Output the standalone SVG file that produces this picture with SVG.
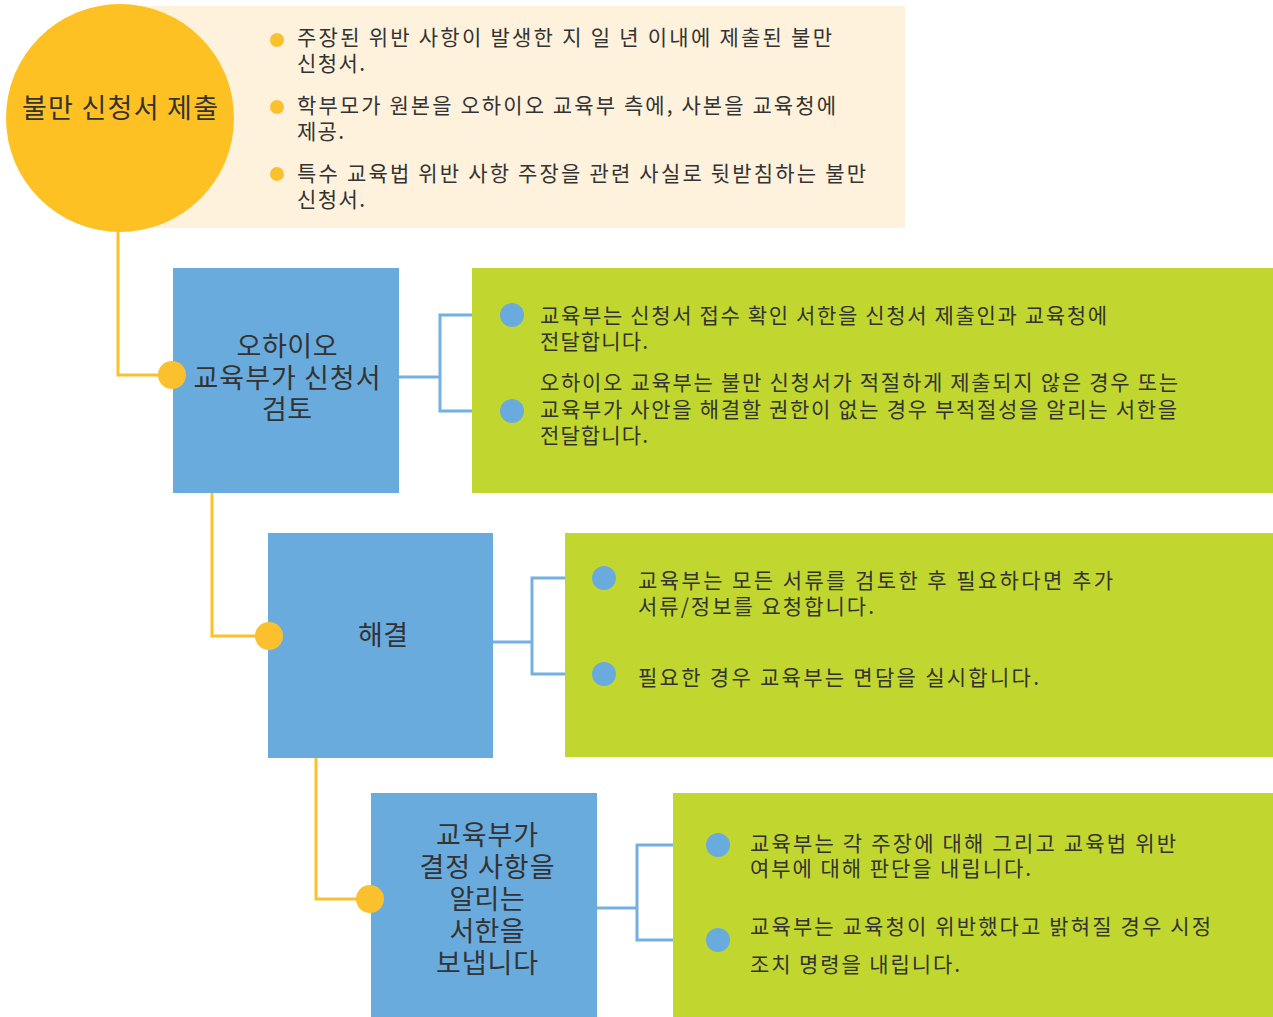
<svg xmlns="http://www.w3.org/2000/svg" width="1273" height="1017" viewBox="0 0 1273 1017">
<style>
.t{font-family:"Noto Sans CJK KR","Noto Sans",sans-serif;fill:#333333}
.b{font-size:21px}
.h{font-size:27px;text-anchor:middle}
.yl{fill:none;stroke:#FBC02D;stroke-width:3}
.bl{fill:none;stroke:#74B0E0;stroke-width:3}
.yd{fill:#FBC02D}
.bd{fill:#6AABDD}
.blue{fill:#6AABDD}
.green{fill:#C1D72F}
</style>
<rect width="1273" height="1017" fill="#ffffff"/>
<g id="connectors">
<polyline class="yl" points="118,232 118,375 172,375"/>
<polyline class="yl" points="212,493 212,636 269,636"/>
<polyline class="yl" points="316,758 316,899 370,899"/>
<polyline class="bl" points="399,377 440,377"/>
<polyline class="bl" points="512,315 440,315 440,411 512,411"/>
<polyline class="bl" points="493,642 532,642"/>
<polyline class="bl" points="604,578 532,578 532,674 604,674"/>
<polyline class="bl" points="597,908 637,908"/>
<polyline class="bl" points="718,845 637,845 637,940 718,940"/>
</g>
<g id="detail-submit">
<rect x="120" y="6" width="785" height="222" fill="#FEF2DC"/>
<circle class="yd" cx="277" cy="40" r="7"/>
<circle class="yd" cx="277" cy="107" r="7"/>
<circle class="yd" cx="277" cy="174" r="7"/>
<text class="t b" x="297" y="45" textLength="535" lengthAdjust="spacing">주장된 위반 사항이 발생한 지 일 년 이내에 제출된 불만</text>
<text class="t b" x="297" y="71" textLength="68" lengthAdjust="spacing">신청서.</text>
<text class="t b" x="297" y="113" textLength="539" lengthAdjust="spacing">학부모가 원본을 오하이오 교육부 측에, 사본을 교육청에</text>
<text class="t b" x="297" y="139" textLength="47" lengthAdjust="spacing">제공.</text>
<text class="t b" x="297" y="181" textLength="569" lengthAdjust="spacing">특수 교육법 위반 사항 주장을 관련 사실로 뒷받침하는 불만</text>
<text class="t b" x="297" y="207" textLength="68" lengthAdjust="spacing">신청서.</text>
</g>
<g id="node-submit">
<circle cx="120" cy="118" r="114" fill="#FDC123"/>
<text class="t h" x="120" y="118" textLength="196" lengthAdjust="spacing">불만 신청서 제출</text>
</g>
<g id="node-review">
<rect class="blue" x="173" y="268" width="226" height="225"/>
<text class="t h" x="287" y="356" textLength="101" lengthAdjust="spacing">오하이오</text>
<text class="t h" x="287" y="388" textLength="187" lengthAdjust="spacing">교육부가 신청서</text>
<text class="t h" x="287" y="419" textLength="50" lengthAdjust="spacing">검토</text>
</g>
<g id="detail-review">
<rect class="green" x="472" y="268" width="801" height="225"/>
<text class="t b" x="540" y="323" textLength="567" lengthAdjust="spacing">교육부는 신청서 접수 확인 서한을 신청서 제출인과 교육청에</text>
<text class="t b" x="540" y="349" textLength="108" lengthAdjust="spacing">전달합니다.</text>
<text class="t b" x="540" y="390" textLength="638" lengthAdjust="spacing">오하이오 교육부는 불만 신청서가 적절하게 제출되지 않은 경우 또는</text>
<text class="t b" x="540" y="417" textLength="637" lengthAdjust="spacing">교육부가 사안을 해결할 권한이 없는 경우 부적절성을 알리는 서한을</text>
<text class="t b" x="540" y="443" textLength="108" lengthAdjust="spacing">전달합니다.</text>
</g>
<g id="node-resolve">
<rect class="blue" x="268" y="533" width="225" height="225"/>
<text class="t h" x="383" y="645" textLength="50" lengthAdjust="spacing">해결</text>
</g>
<g id="detail-resolve">
<rect class="green" x="565" y="533" width="708" height="224"/>
<text class="t b" x="638" y="588" textLength="475" lengthAdjust="spacing">교육부는 모든 서류를 검토한 후 필요하다면 추가</text>
<text class="t b" x="638" y="614" textLength="236" lengthAdjust="spacing">서류/정보를 요청합니다.</text>
<text class="t b" x="638" y="685" textLength="401" lengthAdjust="spacing">필요한 경우 교육부는 면담을 실시합니다.</text>
</g>
<g id="node-decision">
<rect class="blue" x="371" y="793" width="226" height="224"/>
<text class="t h" x="487" y="845" textLength="102" lengthAdjust="spacing">교육부가</text>
<text class="t h" x="487" y="877" textLength="135" lengthAdjust="spacing">결정 사항을</text>
<text class="t h" x="487" y="909" textLength="75" lengthAdjust="spacing">알리는</text>
<text class="t h" x="487" y="941" textLength="75" lengthAdjust="spacing">서한을</text>
<text class="t h" x="487" y="973" textLength="102" lengthAdjust="spacing">보냅니다</text>
</g>
<g id="detail-decision">
<rect class="green" x="673" y="793" width="600" height="224"/>
<text class="t b" x="750" y="851" textLength="426" lengthAdjust="spacing">교육부는 각 주장에 대해 그리고 교육법 위반</text>
<text class="t b" x="750" y="876" textLength="281" lengthAdjust="spacing">여부에 대해 판단을 내립니다.</text>
<text class="t b" x="750" y="934" textLength="461" lengthAdjust="spacing">교육부는 교육청이 위반했다고 밝혀질 경우 시정</text>
<text class="t b" x="750" y="972" textLength="210" lengthAdjust="spacing">조치 명령을 내립니다.</text>
</g>
<g id="dots">
<circle class="yd" cx="172" cy="375" r="14"/>
<circle class="yd" cx="269" cy="636" r="14"/>
<circle class="yd" cx="370" cy="899" r="14"/>
<circle class="bd" cx="512" cy="315" r="12"/>
<circle class="bd" cx="512" cy="411" r="12"/>
<circle class="bd" cx="604" cy="578" r="12"/>
<circle class="bd" cx="604" cy="674" r="12"/>
<circle class="bd" cx="718" cy="845" r="12"/>
<circle class="bd" cx="718" cy="940" r="12"/>
</g>
</svg>
